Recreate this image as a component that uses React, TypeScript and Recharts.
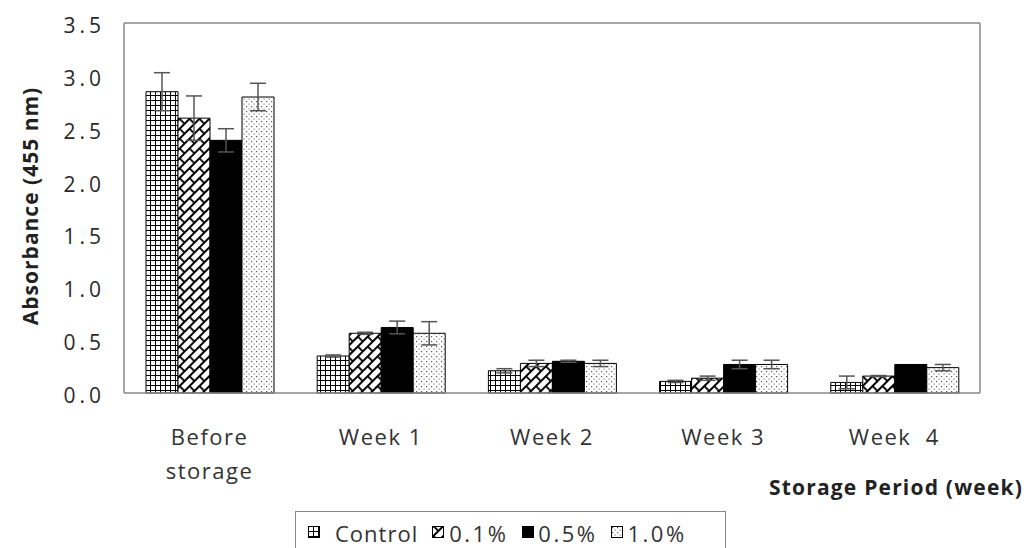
import React from 'react';
import { BarChart, Bar, XAxis, YAxis, ErrorBar, Legend, CartesianGrid } from 'recharts';

const categories = ['Before storage', 'Week 1', 'Week 2', 'Week 3', 'Week 4'];
const tickLabels = [['Before', 'storage'], ['Week 1'], ['Week 2'], ['Week 3'], ['Week  4']];
const control = [2.85, 0.35, 0.21, 0.11, 0.1];
const controlErr = [0.18, 0.01, 0.02, 0.01, 0.06];
const p01 = [2.6, 0.565, 0.28, 0.14, 0.16];
const p01Err = [0.21, 0.01, 0.03, 0.02, 0.005];
const p05 = [2.39, 0.62, 0.3, 0.27, 0.27];
const p05Err = [0.11, 0.06, 0.01, 0.04, 0.0];
const p10 = [2.8, 0.565, 0.28, 0.27, 0.24];
const p10Err = [0.13, 0.11, 0.03, 0.04, 0.03];
const yTicks = [0, 0.5, 1, 1.5, 2, 2.5, 3, 3.5];
const seriesNames = ['Control', '0.1%', '0.5%', '1.0%'];

const data = categories.map((c, i) => ({
  name: c,
  control: control[i],
  controlErr: controlErr[i],
  p01: p01[i],
  p01Err: p01Err[i],
  p05: p05[i],
  p05Err: p05Err[i],
  p10: p10[i],
  p10Err: p10Err[i],
}));

const FONT = '"Open Sans", sans-serif';
const fills = ['url(#patGrid)', 'url(#patDiag)', '#000', 'url(#patDots)'];

const Patterns = () => (
  <>
    <pattern id="patGrid" width="5" height="5" patternUnits="userSpaceOnUse">
      <rect width="5" height="5" fill="#fff" />
      <path d="M0 0.5 H5 M0.5 0 V5" stroke="#000" strokeWidth="1" />
    </pattern>
    <pattern id="patDiag" width="14" height="14" patternUnits="userSpaceOnUse" patternTransform="rotate(-45)">
      <rect width="14" height="14" fill="#fff" />
      <path d="M0 1 H14 M0 8 H14 M1 1 V8 M8 8 V14" stroke="#000" strokeWidth="1.8" />
    </pattern>
    <pattern id="patDots" width="5" height="5" patternUnits="userSpaceOnUse">
      <rect width="5" height="5" fill="#fff" />
      <rect x="1" y="1" width="1.2" height="1.2" fill="#555" />
      <rect x="3.5" y="3.5" width="1.2" height="1.2" fill="#888" />
    </pattern>
  </>
);

const XTick = (props: any) => {
  const { x, y, index } = props;
  const lines = tickLabels[index] || [];
  return (
    <g>
      {lines.map((l: string, i: number) => (
        <text
          key={i}
          x={x}
          y={y + 44 + i * 34}
          textAnchor="middle"
          fill="#333"
          fontSize={22}
          fontFamily={FONT}
          letterSpacing={1.5}
          style={{ whiteSpace: 'pre' }}
        >
          {l}
        </text>
      ))}
    </g>
  );
};

const YTick = (props: any) => {
  const { x, y, payload } = props;
  return (
    <text x={x} y={y + 10} textAnchor="end" fill="#2a2a2a" fontSize={21} fontFamily={FONT} letterSpacing={4}>
      {Number(payload.value).toFixed(1)}
    </text>
  );
};

const legendGaps = [14, 4, 3, 3];

const LegendContent = () => (
  <div
    style={{
      display: 'flex',
      alignItems: 'center',
      border: '1.5px solid #888',
      borderBottom: 'none',
      height: 40,
      boxSizing: 'border-box',
      padding: '2px 0 0 12px',
      fontFamily: FONT,
      fontSize: 22,
      color: '#333',
      background: '#fff',
    }}
  >
    {seriesNames.map((n, i) => (
      <span key={n} style={{ display: 'flex', alignItems: 'center', marginRight: 14, letterSpacing: i === 0 ? 1 : 2.5 }}>
        <svg width={13} height={13} style={{ marginRight: legendGaps[i] }}>
          <rect x={0.5} y={0.5} width={11} height={11} fill={fills[i]} stroke="#000" strokeWidth={1} />
        </svg>
        {n}
      </span>
    ))}
  </div>
);

export default function App() {
  return (
    <div style={{ position: 'absolute', left: 0, top: 0, background: '#fff' }}>
      <BarChart
        width={1034}
        height={548}
        data={data}
        margin={{ top: 23, right: 54, left: 0, bottom: 95 }}
        barGap={0}
        barSize={32}
      >
        <defs>
          <Patterns />
        </defs>
        <CartesianGrid
          stroke="#888"
          strokeWidth={1.5}
          horizontalCoordinatesGenerator={(p: any) => [p.offset.top]}
          verticalCoordinatesGenerator={(p: any) => [p.offset.left + p.offset.width]}
        />
        <XAxis
          dataKey="name"
          axisLine={{ stroke: '#888', strokeWidth: 1.5 }}
          tickLine={false}
          tick={<XTick />}
          height={60}
          interval={0}
        />
        <YAxis
          domain={[0, 3.5]}
          ticks={yTicks}
          axisLine={{ stroke: '#888', strokeWidth: 1.5 }}
          tickLine={false}
          tickMargin={13}
          width={124}
          tick={<YTick />}
          label={{
            value: 'Absorbance (455 nm)',
            angle: -90,
            position: 'insideLeft',
            dx: 26,
            dy: -2,
            style: { textAnchor: 'middle', fontWeight: 700, fontSize: 21, fontFamily: FONT, fill: '#222', letterSpacing: 1 },
          }}
        />
        <Bar dataKey="control" name="Control" fill={fills[0]} stroke="#000" strokeWidth={1} isAnimationActive={false}>
          <ErrorBar dataKey="controlErr" width={8} stroke="#555" strokeWidth={1.5} />
        </Bar>
        <Bar dataKey="p01" name="0.1%" fill={fills[1]} stroke="#000" strokeWidth={1} isAnimationActive={false}>
          <ErrorBar dataKey="p01Err" width={8} stroke="#555" strokeWidth={1.5} />
        </Bar>
        <Bar dataKey="p05" name="0.5%" fill={fills[2]} stroke="#000" strokeWidth={1} isAnimationActive={false}>
          <ErrorBar dataKey="p05Err" width={8} stroke="#555" strokeWidth={1.5} />
        </Bar>
        <Bar dataKey="p10" name="1.0%" fill={fills[3]} stroke="#000" strokeWidth={1} isAnimationActive={false}>
          <ErrorBar dataKey="p10Err" width={8} stroke="#555" strokeWidth={1.5} />
        </Bar>
        <Legend
          layout="vertical"
          align="center"
          verticalAlign="middle"
          content={<LegendContent />}
          wrapperStyle={{ left: 295, top: 511, width: 431, height: 40 }}
        />
        <text x={896} y={495} textAnchor="middle" fontWeight={700} fontSize={21} fontFamily={FONT} fill="#222" letterSpacing={1.2}>
          Storage Period (week)
        </text>
      </BarChart>
    </div>
  );
}
